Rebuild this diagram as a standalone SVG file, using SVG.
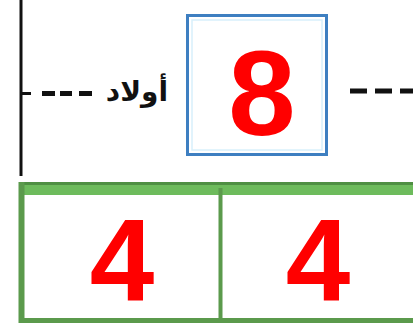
<svg xmlns="http://www.w3.org/2000/svg" width="413" height="331" viewBox="0 0 413 331">
<style>
.num{font-family:"Liberation Sans",Arial,sans-serif;font-weight:bold;fill:#ff0000;text-anchor:middle}
.dash{stroke:#111;stroke-width:5;fill:none}
.green{fill:none;stroke:#5b9a4c}
</style>
<rect width="413" height="331" fill="#ffffff"/>
<g id="connectors">
<line x1="21" y1="0" x2="21" y2="176" stroke="#111" stroke-width="3"/>
<line x1="22" y1="93.5" x2="31" y2="93.5" stroke="#111" stroke-width="3"/>
<line class="dash" x1="42" y1="93.5" x2="55" y2="93.5"/>
<line class="dash" x1="60" y1="93.5" x2="72" y2="93.5"/>
<line class="dash" x1="79" y1="93.5" x2="92" y2="93.5"/>
<line class="dash" x1="350" y1="91" x2="413" y2="91" stroke-dasharray="17 8"/>
</g>
<g id="label">
<text x="168" y="101" font-family="'DejaVu Sans',sans-serif" font-weight="bold" font-size="28" text-anchor="end" fill="#111">أولاد</text>
</g>
<g id="box8">
<rect x="187.5" y="15.5" width="139" height="139" fill="#ffffff" stroke="#3e7fc1" stroke-width="3"/>
<rect x="192" y="20" width="130" height="130" fill="none" stroke="#d8f0fb" stroke-width="1.5"/>
<text class="num" x="262" y="135" font-size="121">8</text>
</g>
<g id="bar">
<rect x="19" y="182" width="394" height="13" fill="#6dbb5c"/>
<line x1="19" y1="183.5" x2="413" y2="183.5" stroke="#4f8f43" stroke-width="3"/>
<line x1="21.5" y1="182" x2="21.5" y2="323" class="green" stroke-width="6"/>
<line x1="19" y1="320.5" x2="413" y2="320.5" class="green" stroke-width="5"/>
<line x1="220.5" y1="188" x2="220.5" y2="320" class="green" stroke-width="4"/>
</g>
<g id="cell1">
<text class="num" x="122" y="300" font-size="116">4</text>
</g>
<g id="cell2">
<text class="num" x="318" y="300" font-size="116">4</text>
</g>
</svg>
